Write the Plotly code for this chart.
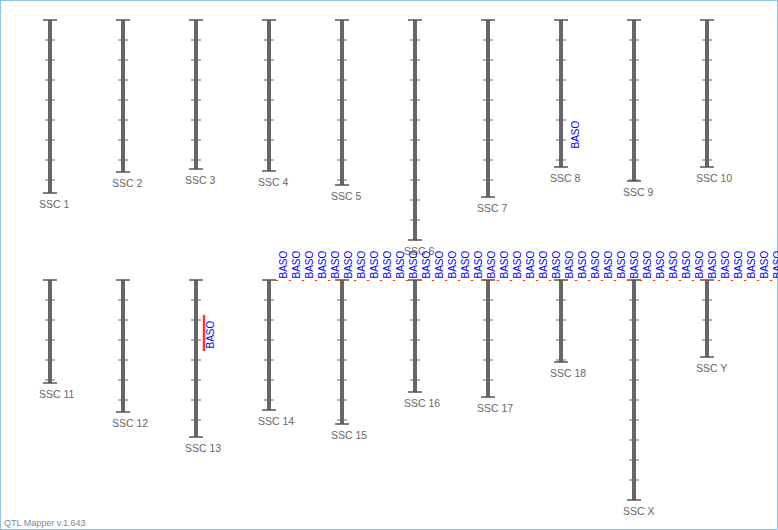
import plotly.graph_objects as go

# ---------------- data ----------------
chrom_names = ["SSC 1", "SSC 2", "SSC 3", "SSC 4", "SSC 5", "SSC 6", "SSC 7", "SSC 8", "SSC 9", "SSC 10",
               "SSC 11", "SSC 12", "SSC 13", "SSC 14", "SSC 15", "SSC 16", "SSC 17", "SSC 18", "SSC X", "SSC Y"]
chrom_lengths = [173, 152, 149, 151, 165, 220, 177, 147, 161, 147,
                 103, 132, 157, 130, 144, 112, 117, 82, 220, 77]

qtl_chrom = ["SSC 8", "SSC 13",
             "SSC 14", "SSC 14", "SSC 14", "SSC 14", "SSC 14", "SSC 14", "SSC 14", "SSC 14",
             "SSC 14", "SSC 14", "SSC 14", "SSC 14", "SSC 14", "SSC 14", "SSC 14", "SSC 14",
             "SSC 14", "SSC 14", "SSC 14", "SSC 14", "SSC 14", "SSC 14", "SSC 14", "SSC 14",
             "SSC 14", "SSC 14", "SSC 14", "SSC 14", "SSC 14", "SSC 14", "SSC 14", "SSC 14",
             "SSC 14", "SSC 14", "SSC 14", "SSC 14", "SSC 14", "SSC 14", "SSC 14"]
qtl_start = [131, 35,
             0, 0, 0, 0, 0, 0, 0, 0, 0, 0, 0, 0, 0, 0, 0, 0, 0, 0, 0, 0,
             0, 0, 0, 0, 0, 0, 0, 0, 0, 0, 0, 0, 0, 0, 0, 0, 0, 0, 0]
qtl_end = [131, 71,
           1, 1, 1, 1, 1, 1, 1, 1, 1, 1, 1, 1, 1, 1, 1, 1, 1, 1, 1, 1,
           1, 1, 1, 1, 1, 1, 1, 1, 1, 1, 1, 1, 1, 1, 1, 1, 1, 1, 1]
qtl_label = ["BASO"] * len(qtl_chrom)

# ---------------- layout constants ----------------
W, H = 778, 530
X0, DX = 50, 73
ROW_TOP = [20, 280]
PER_ROW = 10
TICK_STEP = 20
BAR_COLOR = "#666666"


def chrom_pos(i):
    return X0 + DX * (i % PER_ROW), ROW_TOP[i // PER_ROW]


bar_x, bar_y = [], []
tick_x, tick_y = [], []
cap_x, cap_y = [], []
annotations = []
for i, (name, L) in enumerate(zip(chrom_names, chrom_lengths)):
    cx, top = chrom_pos(i)
    bar_x += [cx, cx, None]
    bar_y += [top, top + L, None]
    for yy in (top, top + L):
        cap_x += [cx - 7, cx + 7, None]
        cap_y += [yy, yy, None]
    t = TICK_STEP
    while t < L:
        tick_x += [cx - 5, cx + 5, None]
        tick_y += [top + t, top + t, None]
        t += TICK_STEP
    annotations.append(dict(x=cx - 13, y=top + L + 3, xref="x", yref="y", text=name, showarrow=False,
                            xanchor="left", yanchor="top",
                            font=dict(family="Liberation Sans, Arial", size=10.5, color="#666666")))

# QTL column stacking per chromosome
columns = {}
qtl_col = []
for c, s, e in zip(qtl_chrom, qtl_start, qtl_end):
    cols = columns.setdefault(c, [])
    k = 0
    while True:
        if k >= len(cols):
            cols.append([])
        if all(not (s <= oe and os_ <= e) for os_, oe in cols[k]):
            cols[k].append((s, e))
            break
        k += 1
    qtl_col.append(k)

qtl_x, qtl_y = [], []
for c, s, e, k, lab in zip(qtl_chrom, qtl_start, qtl_end, qtl_col, qtl_label):
    i = chrom_names.index(c)
    cx, top = chrom_pos(i)
    rx = cx + 8 + 13 * k
    qtl_x += [rx, rx, None]
    qtl_y += [top + s, top + e, None]
    annotations.append(dict(x=rx + 5.5, y=top + e, xref="x", yref="y", text=lab, showarrow=False,
                            textangle=-90, xanchor="center", yanchor="bottom",
                            font=dict(family="Liberation Sans, Arial", size=10, color="#0000ff")))

annotations.append(dict(x=0.002, y=0.0, xref="paper", yref="paper", text="QTL Mapper v.1.643",
                        showarrow=False, xanchor="left", yanchor="bottom",
                        font=dict(family="Liberation Sans, Arial", size=9, color="#778899")))

fig = go.Figure()
fig.add_trace(go.Scatter(x=bar_x, y=bar_y, mode="lines", line=dict(color=BAR_COLOR, width=4),
                         hoverinfo="skip", showlegend=False))
fig.add_trace(go.Scatter(x=tick_x, y=tick_y, mode="lines", line=dict(color=BAR_COLOR, width=1),
                         hoverinfo="skip", showlegend=False))
fig.add_trace(go.Scatter(x=cap_x, y=cap_y, mode="lines", line=dict(color="#555555", width=1.5),
                         hoverinfo="skip", showlegend=False))
fig.add_trace(go.Scatter(x=qtl_x, y=qtl_y, mode="lines", line=dict(color="#ff3333", width=2.5),
                         hoverinfo="skip", showlegend=False))

fig.update_layout(
    width=W, height=H, margin=dict(l=0, r=0, t=0, b=0),
    paper_bgcolor="white", plot_bgcolor="white",
    xaxis=dict(range=[0, W], visible=False, fixedrange=True),
    yaxis=dict(range=[H, 0], visible=False, fixedrange=True),
    annotations=annotations,
    shapes=[dict(type="rect", xref="paper", yref="paper", x0=0, x1=1, y0=0, y1=1,
                 line=dict(color="#8ec5ee", width=2))],
)

fig.write_html("out.html", config={"displayModeBar": False},
               post_script="document.body.style.margin='0';document.body.style.overflow='hidden';")
